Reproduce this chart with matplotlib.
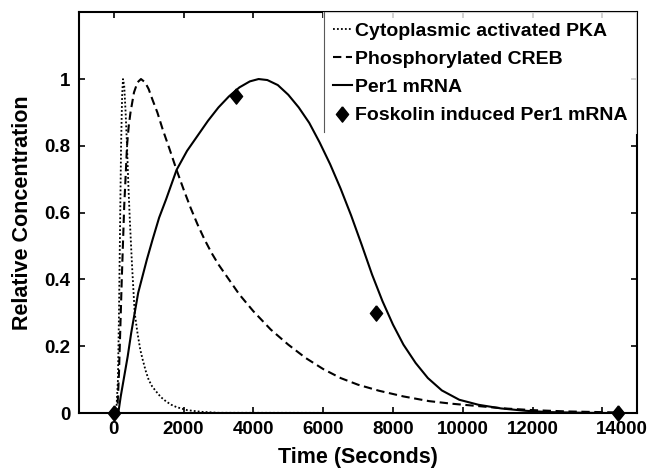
import numpy as np
import matplotlib
matplotlib.use('Agg')
import matplotlib.pyplot as plt
import matplotlib.transforms as mtransforms

# data
t_pka = [0, 80, 120, 150, 180, 210, 240, 265, 300, 340, 380, 420, 460, 520, 600, 680, 760, 829, 920, 1000,
         1100, 1229, 1350, 1500, 1650, 1800, 2100, 2500, 3000, 14450]
v_pka = [0, 0.02, 0.1, 0.3, 0.55, 0.8, 0.95, 1.0, 0.98, 0.9, 0.8, 0.68, 0.58, 0.45, 0.3, 0.24, 0.19, 0.16, 0.125, 0.1,
         0.08, 0.063, 0.048, 0.035, 0.025, 0.018, 0.009, 0.004, 0.001, 0]

t_creb = [0, 100, 150, 230, 300, 350, 380, 430, 480, 580, 680, 780, 900, 1000, 1114, 1250, 1400, 1600, 1800, 2000,
          2200, 2400, 2600, 2800, 3000, 3300, 3600, 4000, 4500, 5000, 5500, 6000, 6500, 7000, 7600, 8300, 9029,
          9700, 10457, 11200, 12000, 13000, 14450]
v_creb = [0, 0, 0.12, 0.4, 0.62, 0.73, 0.8, 0.86, 0.9, 0.96, 0.99, 1.0, 0.99, 0.97, 0.937, 0.9, 0.85, 0.79, 0.728, 0.67,
          0.615, 0.565, 0.52, 0.48, 0.445, 0.40, 0.355, 0.305, 0.25, 0.205, 0.165, 0.132, 0.105, 0.085, 0.067, 0.05,
          0.036, 0.028, 0.021, 0.014, 0.009, 0.005, 0.002]

t_per1 = [0, 130, 200, 300, 400, 500, 600, 700, 800, 950, 1114, 1300, 1500, 1800, 2100, 2400, 2700, 3000, 3300, 3600,
          3900, 4150, 4400, 4700, 5000, 5300, 5600, 5900, 6200, 6500, 6800, 7100, 7400, 7700, 8000, 8300, 8650, 9000,
          9400, 9900, 10450, 11100, 11800, 12500, 13500, 14450]
v_per1 = [0, 0, 0.05, 0.11, 0.17, 0.24, 0.30, 0.36, 0.40, 0.46, 0.52, 0.585, 0.64, 0.728, 0.785, 0.83, 0.875, 0.915,
          0.948, 0.975, 0.993, 1.0, 0.997, 0.982, 0.953, 0.915, 0.869, 0.81, 0.745, 0.672, 0.592, 0.505, 0.415,
          0.335, 0.265, 0.205, 0.15, 0.105, 0.068, 0.04, 0.025, 0.014, 0.007, 0.003, 0.001, 0]

t_fsk = [0, 3500, 7500, 14450]
v_fsk = [0, 0.95, 0.30, 0]

xtick_pos = [0, 2000, 4000, 6000, 8000, 10000, 12000, 14000]
xtick_lab = ['0', '2000', '4000', '6000', '8000', '10000', '12000', '14000']
ytick_pos = [0, 0.2, 0.4, 0.6, 0.8, 1.0]
ytick_lab = ['0', '0.2', '0.4', '0.6', '0.8', '1']

plt.rcParams['font.family'] = ['Liberation Sans', 'DejaVu Sans']
plt.rcParams['font.weight'] = 'bold'

fig = plt.figure(figsize=(6.57, 4.70), dpi=100)
ax = fig.add_axes([0.120, 0.121, 0.850, 0.853])

diamond = [(0, 1), (0.8, 0), (0, -1), (-0.8, 0), (0, 1)]

ax.plot(t_pka, v_pka, color='black', linestyle=(0, (1, 1.2)), linewidth=1.3, label='Cytoplasmic activated PKA')
ax.plot(t_creb, v_creb, color='black', linestyle=(0, (4, 2.2)), linewidth=1.5, label='Phosphorylated CREB')
ax.plot(t_per1, v_per1, color='black', linestyle='-', linewidth=1.5, label='Per1 mRNA')
ax.plot(t_fsk, v_fsk, color='black', linestyle='none', marker=diamond, markersize=11,
        label='Foskolin induced Per1 mRNA', clip_on=False, zorder=5)

ax.set_xlim(-1000, 15000)
ax.set_ylim(0, 1.2)
ax.set_xticks(xtick_pos)
ax.set_xticklabels(xtick_lab)
ax.set_yticks(ytick_pos)
ax.set_yticklabels(ytick_lab)
ax.tick_params(direction='in', top=True, right=True, length=4, width=1.2, labelsize=13.5, pad=6)
for s in ax.spines.values():
    s.set_linewidth(1.5)

# last label in the reference sits to the right of its tick
lbl = ax.get_xticklabels()[-1]
lbl.set_transform(lbl.get_transform() + mtransforms.ScaledTranslation(19 / 100, 0, fig.dpi_scale_trans))

ax.set_xlabel('Time (Seconds)', fontsize=15.5, fontweight='bold', labelpad=6)
ax.set_ylabel('Relative Concentration', fontsize=15.5, fontweight='bold', labelpad=8)

leg = ax.legend(loc='upper right', bbox_to_anchor=(1.0, 1.0), frameon=True, fancybox=False,
                fontsize=14, handlelength=1.0, handletextpad=0.15, borderpad=0.5, labelspacing=0.55,
                borderaxespad=0)
leg.get_frame().set_edgecolor('none')
for txt in leg.get_texts():
    txt.set_fontweight('bold')

ax.plot([0.439, 0.439], [0.70, 1.0], transform=ax.transAxes, color='0.35', linewidth=0.8, clip_on=False, zorder=6)

fig.savefig('out.png', dpi=100)
